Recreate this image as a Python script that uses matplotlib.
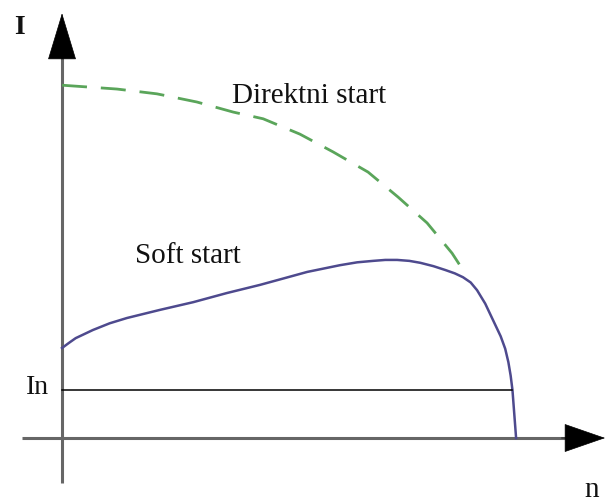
import matplotlib
matplotlib.use('Agg')
import matplotlib.pyplot as plt

# speed n (fraction of synchronous speed), current I (multiples of In)
n_direct = [0.0, 0.121, 0.209, 0.297, 0.377, 0.443, 0.524, 0.597, 0.674, 0.740, 0.804, 0.859, 0.883, 0.894]
i_direct = [7.35, 7.27, 7.17, 7.0, 6.79, 6.65, 6.33, 5.96, 5.54, 5.02, 4.48, 3.85, 3.5, 3.40]

n_soft = [0.0, 0.015, 0.03, 0.068, 0.105, 0.143, 0.216, 0.289, 0.363, 0.436, 0.490, 0.540, 0.612,
          0.650, 0.685, 0.712, 0.738, 0.765, 0.789, 0.818, 0.844, 0.865, 0.883, 0.900, 0.914,
          0.932, 0.949, 0.966, 0.976, 0.983, 0.988, 0.992, 0.996, 1.0]
i_soft = [1.875, 1.98, 2.08, 2.25, 2.39, 2.5, 2.67, 2.83, 3.02, 3.19, 3.33, 3.46, 3.60,
          3.66, 3.69, 3.71, 3.71, 3.69, 3.65, 3.58, 3.50, 3.43, 3.35, 3.24, 3.08,
          2.80, 2.46, 2.12, 1.86, 1.58, 1.30, 1.0, 0.5, 0.0]

i_nominal = 1.0
n_nominal = 0.992

fig = plt.figure(figsize=(6.06, 5.03), dpi=100)
ax = fig.add_axes([0, 0, 1, 1])
ax.set_xlim(-0.1366, 1.198)
ax.set_ylim(-1.354, 9.125)
ax.axis('off')

plt.rcParams['font.family'] = ['Liberation Serif', 'DejaVu Serif']

axis_col = '#666666'
# axes shafts
ax.plot([0, 0], [-0.94, 8.0], color=axis_col, lw=2.2, solid_capstyle='butt')
ax.plot([-0.088, 1.12], [0, 0], color=axis_col, lw=2.2, solid_capstyle='butt')
# arrow heads
ax.annotate('', xy=(0, 8.85), xytext=(0, 7.9),
            arrowprops=dict(arrowstyle='-|>,head_length=3.2,head_width=0.97',
                            mutation_scale=10, color='black', lw=0.5, shrinkA=0, shrinkB=0))
ax.annotate('', xy=(1.196, 0), xytext=(1.10, 0),
            arrowprops=dict(arrowstyle='-|>,head_length=2.8,head_width=0.97',
                            mutation_scale=10, color='black', lw=0.5, shrinkA=0, shrinkB=0))

# curves
ax.plot(n_direct, i_direct, color='#5aa55a', lw=2.0, dashes=(9, 5))
ax.plot(n_soft, i_soft, color='#4e4a8e', lw=1.8)
ax.plot([0, n_nominal], [i_nominal, i_nominal], color='black', lw=1.1)

# labels
txt = '#111111'
ax.text(0.374, 6.98, 'Direktni start', fontsize=21, ha='left', va='baseline', color=txt)
ax.text(0.161, 3.65, 'Soft start', fontsize=21, ha='left', va='baseline', color=txt)
ax.text(-0.053, 1.06, 'In', fontsize=20, ha='center', va='center', color=txt)
ax.text(-0.093, 8.56, 'I', fontsize=20, ha='center', va='center', color=txt, fontweight='bold')
ax.text(1.167, -1.08, 'n', fontsize=21, ha='center', va='center', color=txt)

fig.savefig('out.png', dpi=100)
